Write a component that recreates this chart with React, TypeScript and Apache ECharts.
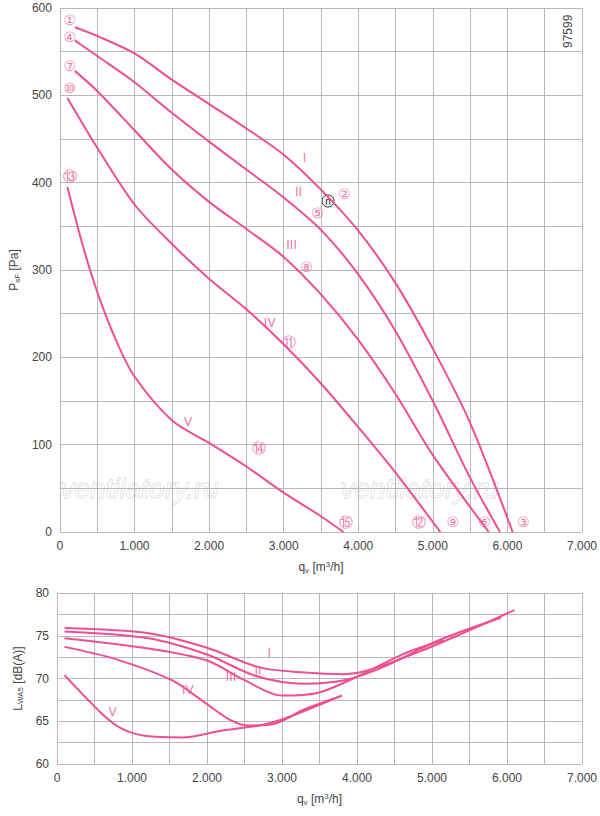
import React, { useEffect, useRef } from "react";
import * as echarts from "echarts";

// pressure curves [q_v m3/h, p_sF Pa]
const presI = [[200, 578], [500, 568], [1000, 548], [1500, 518], [2000, 490], [2500, 462], [3000, 432], [3500, 392], [4000, 345], [4500, 285], [5000, 210], [5500, 125], [6070, 0]];
const presII = [[200, 563], [500, 545], [1000, 515], [1500, 480], [2000, 447], [2500, 415], [3000, 383], [3500, 346], [4000, 295], [4500, 230], [5000, 150], [5500, 62], [5900, 0]];
const presIII = [[200, 528], [500, 505], [1000, 460], [1500, 415], [2000, 378], [2500, 347], [3000, 315], [3500, 272], [4000, 220], [4500, 158], [5000, 88], [5750, 0]];
const presIV = [[100, 497], [500, 440], [1000, 375], [1500, 330], [2000, 290], [2500, 255], [3000, 215], [3500, 170], [4000, 120], [4500, 68], [5100, 0]];
const presV = [[100, 395], [300, 330], [500, 275], [750, 220], [1000, 178], [1500, 128], [2000, 102], [2500, 75], [3000, 45], [3500, 18], [3800, 0]];

// sound power curves [q_v m3/h, L_WA5 dB(A)]
const soundI = [[100, 75.9], [1220, 75.3], [2000, 73.6], [2700, 71.3], [3300, 70.7], [3830, 70.5], [4130, 70.9], [4850, 73.2], [5360, 75.1], [6100, 78]];
const soundII = [[100, 75.5], [1220, 74.7], [2000, 72.8], [2650, 70.3], [3300, 69.4], [3830, 69.8], [4340, 71.3], [5100, 74.5], [5920, 77.1]];
const soundIII = [[100, 74.7], [1220, 73.5], [2000, 72.1], [2500, 69.8], [3000, 68], [3470, 68.3], [4000, 70.2], [4600, 72.8], [5150, 74.5]];
const soundIV = [[100, 73.7], [770, 72.3], [1530, 69.8], [2000, 67.0], [2300, 65.2], [2550, 64.5], [2900, 64.7], [3300, 66.4], [3800, 68]];
const soundV = [[100, 70.4], [610, 65.8], [870, 64.1], [1170, 63.3], [1680, 63.1], [2190, 63.9], [2700, 64.5], [3000, 65.2], [3720, 67.7], [3800, 68]];

// operating point markers (circled numbers)
const markers = [
  ["①", 133, 586], ["④", 133, 567], ["⑦", 133, 534], ["⑩", 133, 508], ["⑬", 133, 408],
  ["②", 3813, 387], ["⑤", 3453, 365], ["⑧", 3307, 303], ["⑪", 3067, 218], ["⑭", 2667, 96],
  ["⑮", 3840, 11], ["⑫", 4813, 11], ["⑨", 5267, 11], ["⑥", 5693, 11], ["③", 6213, 11],
];
const presLabels = [["I", 3280, 428], ["II", 3200, 389], ["III", 3107, 329], ["IV", 2813, 239], ["V", 1720, 126]];
const soundLabels = [["I", 2830, 73.0], ["II", 2680, 70.9], ["III", 2320, 70.2], ["IV", 1745, 68.6], ["V", 740, 66.1]];

const PINK = "#ef4f92";
const TXT = "#444";
const FONT = "Liberation Sans, Arial, sans-serif";

const fmt = (v: number) => (v === 0 ? "0" : v % 1000 === 0 ? `${v / 1000}.000` : "");

const App: React.FC = () => {
  const ref = useRef<HTMLDivElement>(null);

  useEffect(() => {
    document.body.style.margin = "0";
    if (!ref.current) return;
    const chart = echarts.init(ref.current, null, { renderer: "svg" });

    const xAxisBase = (gridIndex: number) => ({
      type: "value" as const,
      gridIndex,
      min: 0,
      max: 7000,
      interval: 500,
      axisLine: { show: false },
      axisTick: { show: false },
      splitLine: { show: true, lineStyle: { color: "#b8b8b8", width: 1 } },
      axisLabel: { color: TXT, fontSize: 12, fontFamily: FONT, formatter: fmt, margin: 8 },
      name: "{a|q}{s|v}{a| [m}{s2|3}{a|/h]}",
      nameLocation: "middle" as const,
      nameGap: 28,
      nameTextStyle: {
        rich: {
          a: { color: TXT, fontSize: 12, fontFamily: FONT },
          s: { color: TXT, fontSize: 8, fontFamily: FONT, verticalAlign: "bottom", padding: [6, 0, 0, 0] },
          s2: { color: TXT, fontSize: 8, fontFamily: FONT, verticalAlign: "top", padding: [0, 0, 6, 0] },
        },
      },
    });

    const line = (data: number[][], x: number) => ({
      type: "line",
      xAxisIndex: x,
      yAxisIndex: x,
      data,
      smooth: 0.3,
      showSymbol: false,
      lineStyle: { color: PINK, width: 2 },
      silent: true,
    });

    const textScatter = (data: any[], x: number, color: string, size: number) => ({
      type: "scatter",
      xAxisIndex: x,
      yAxisIndex: x,
      symbolSize: 0,
      silent: true,
      data: data.map((d) => ({ value: [d[1], d[2]], name: d[0] })),
      label: {
        show: true,
        position: "inside",
        formatter: (p: any) => p.name,
        color,
        fontSize: size,
        fontFamily: "DejaVu Sans, sans-serif",
      },
    });

    chart.setOption({
      animation: false,
      backgroundColor: "#fff",
      grid: [
        { left: 57, right: 18, top: 8, height: 524 },
        { left: 57, right: 18, top: 593, height: 171 },
      ],
      xAxis: [xAxisBase(0), xAxisBase(1)],
      yAxis: [
        {
          type: "value",
          gridIndex: 0,
          min: 0,
          max: 600,
          interval: 50,
          axisLine: { show: false },
          axisTick: { show: false },
          splitLine: { lineStyle: { color: "#b8b8b8" } },
          axisLabel: { color: TXT, fontSize: 12, fontFamily: FONT, formatter: (v: number) => (v % 100 === 0 ? String(v) : "") },
          name: "{a|P}{s|sF}{a| [Pa]}",
          nameLocation: "middle",
          nameGap: 30,
          nameTextStyle: {
            rich: {
              a: { color: TXT, fontSize: 12, fontFamily: FONT },
              s: { color: TXT, fontSize: 8, fontFamily: FONT, padding: [6, 0, 0, 0] },
            },
          },
        },
        {
          type: "value",
          gridIndex: 1,
          min: 60,
          max: 80,
          interval: 2.5,
          axisLine: { show: false },
          axisTick: { show: false },
          splitLine: { lineStyle: { color: "#b8b8b8" } },
          axisLabel: { color: TXT, fontSize: 12, fontFamily: FONT, formatter: (v: number) => (v % 5 === 0 ? String(v) : "") },
          name: "{a|L}{s|WA5}{a| [dB(A)]}",
          nameLocation: "middle",
          nameGap: 30,
          nameTextStyle: {
            rich: {
              a: { color: TXT, fontSize: 12, fontFamily: FONT },
              s: { color: TXT, fontSize: 8, fontFamily: FONT, padding: [6, 0, 0, 0] },
            },
          },
        },
      ],
      graphic: [
        { type: "text", left: 60, top: 474, style: { text: "ventilatory.ru", fontSize: 28, fontStyle: "italic", fontFamily: FONT, fill: "rgba(255,255,255,0.6)", stroke: "rgba(190,190,190,0.7)", lineWidth: 0.8 } },
        { type: "text", left: 340, top: 474, style: { text: "ventilatory.ru", fontSize: 28, fontStyle: "italic", fontFamily: FONT, fill: "rgba(255,255,255,0.6)", stroke: "rgba(190,190,190,0.7)", lineWidth: 0.8 } },
        { type: "text", x: 562, y: 48, rotation: Math.PI / 2, style: { text: "97599", fontSize: 12, fontFamily: FONT, fill: TXT } },
        { type: "circle", shape: { cx: 328, cy: 201, r: 6 }, style: { fill: "#fff", stroke: "#222", lineWidth: 1 } },
        { type: "text", x: 328, y: 201, style: { text: "n", fontSize: 10, fontFamily: FONT, fill: "#222", align: "center", verticalAlign: "middle" } },
      ],
      series: [
        line(presI, 0), line(presII, 0), line(presIII, 0), line(presIV, 0), line(presV, 0),
        line(soundI, 1), line(soundII, 1), line(soundIII, 1), line(soundIV, 1), line(soundV, 1),
        textScatter(markers, 0, PINK, 14),
        textScatter(presLabels, 0, PINK, 12),
        textScatter(soundLabels, 1, PINK, 12),
      ],
    });

    return () => chart.dispose();
  }, []);

  return <div ref={ref} style={{ width: 600, height: 816 }} />;
};

export default App;
